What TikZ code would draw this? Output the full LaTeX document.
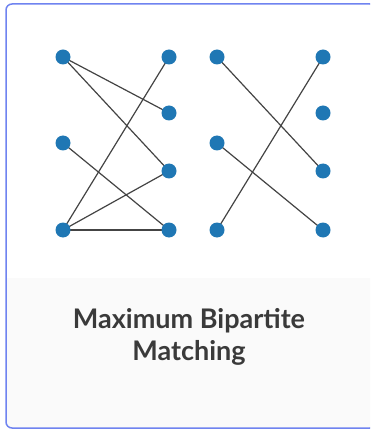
\documentclass[tikz,border=0pt]{standalone}
\usepackage{fontspec}
\setmainfont{Lato}
\usetikzlibrary{backgrounds}
\begin{document}
\begin{tikzpicture}[x=1pt,y=-1pt,
  vtx/.style={circle,fill=nodeblue,inner sep=0pt,minimum size=15pt},
  edge/.style={draw=edgegray,line width=1.2pt},
  title/.style={font=\bfseries\fontsize{27}{31.5}\selectfont,text=titlegray,align=center}]
\definecolor{nodeblue}{HTML}{1F77B4}
\definecolor{edgegray}{HTML}{444444}
\definecolor{titlegray}{HTML}{3A3A3A}
\definecolor{cardborder}{HTML}{6F83F0}
\definecolor{footergray}{HTML}{FAFAFA}
\useasboundingbox (0,0) rectangle (370,430);
% left graph: all edges
\node[vtx] (a1) at (63,57) {};
\node[vtx] (a2) at (63,143) {};
\node[vtx] (a3) at (63,230) {};
\node[vtx] (b1) at (169,57) {};
\node[vtx] (b2) at (169,113) {};
\node[vtx] (b3) at (169,171) {};
\node[vtx] (b4) at (169,230) {};
% right graph: matching
\node[vtx] (c1) at (217,57) {};
\node[vtx] (c2) at (217,143) {};
\node[vtx] (c3) at (217,230) {};
\node[vtx] (d1) at (323,57) {};
\node[vtx] (d2) at (323,113) {};
\node[vtx] (d3) at (323,171) {};
\node[vtx] (d4) at (323,230) {};
\node[title] (t) at (189,337) {Maximum Bipartite\\Matching};
\begin{scope}[on background layer]
  % card with grey footer
  \clip (0,0) rectangle (370,430);
  \fill[white,rounded corners=6pt] (6,4) rectangle (376,428);
  \fill[footergray,rounded corners=6pt] (6,278) rectangle (376,428);
  \fill[footergray] (6,278) rectangle (376,300);
  \draw[cardborder,line width=1.5pt,rounded corners=6pt] (6,4) rectangle (376,428);
  % edges behind the dots
  \draw[edge] (a1.center) -- (b2.center);
  \draw[edge] (a1.center) -- (b3.center);
  \draw[edge] (a2.center) -- (b4.center);
  \draw[edge] (a3.center) -- (b1.center);
  \draw[edge] (a3.center) -- (b3.center);
  \draw[edge] (a3.center) -- (b4.center);
  \draw[edge] (c1.center) -- (d3.center);
  \draw[edge] (c2.center) -- (d4.center);
  \draw[edge] (c3.center) -- (d1.center);
\end{scope}
\end{tikzpicture}
\end{document}
